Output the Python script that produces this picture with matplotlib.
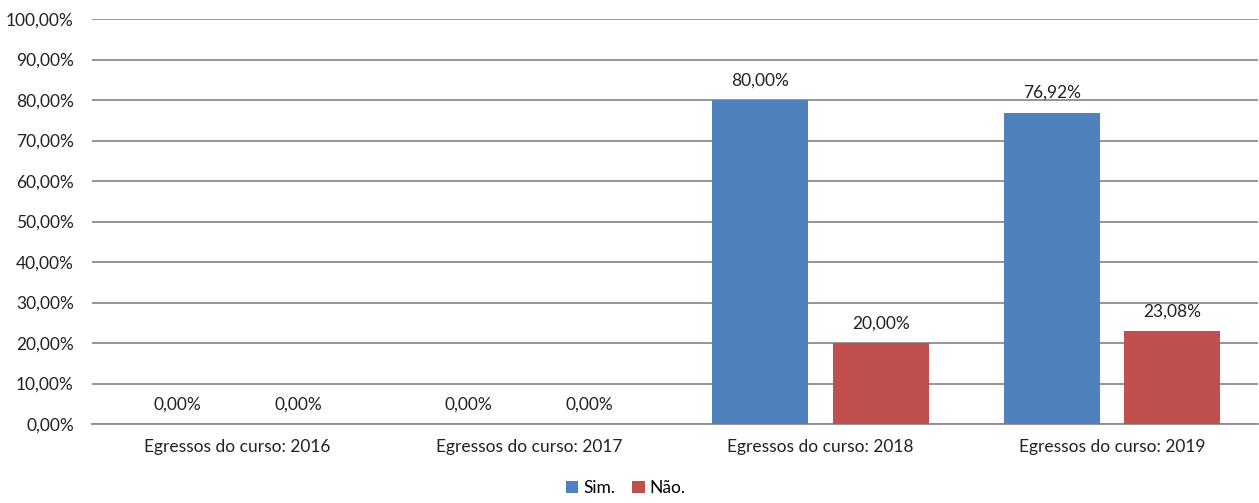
import matplotlib.pyplot as plt
import numpy as np

categories = ['Egressos do curso: 2016', 'Egressos do curso: 2017',
              'Egressos do curso: 2018', 'Egressos do curso: 2019']
sim = [0.0, 0.0, 80.00, 76.92]
nao = [0.0, 0.0, 20.00, 23.08]
series_names = ['Sim.', 'Não.']
colors = ['#4F81BD', '#C0504D']

plt.rcParams['font.family'] = ['Lato', 'DejaVu Sans']
fs = 12.5

fig = plt.figure(figsize=(12.59, 5.03), dpi=100)
ax = fig.add_axes([0.073, 0.157, 0.926, 0.805])

x = np.arange(len(categories))
w = 0.33
off = 0.207
for vals, dx, c, name in [(sim, -off, colors[0], series_names[0]),
                          (nao, off, colors[1], series_names[1])]:
    bars = ax.bar(x + dx, vals, width=w, color=c, label=name, zorder=3)
    for b, v in zip(bars, vals):
        ax.annotate(f'{v:.2f}%'.replace('.', ','), (b.get_x() + b.get_width() / 2, v),
                    xytext=(0, 14), textcoords='offset points',
                    ha='center', va='center', fontsize=fs, color='#222222')

ax.set_xlim(-0.5, 3.5)
ax.set_ylim(0, 100)
ax.set_yticks(np.arange(0, 101, 10))
ax.set_yticklabels([f'{v:.2f}%'.replace('.', ',') for v in np.arange(0, 101, 10)])
ax.set_xticks(x)
ax.set_xticklabels(categories)
ax.tick_params(axis='both', length=0, labelsize=fs, colors='#222222')
ax.tick_params(axis='y', pad=13)
ax.tick_params(axis='x', pad=11)
ax.grid(axis='y', color='#8C8C8C', linewidth=1.3, zorder=0)
for s in ['top', 'right', 'left']:
    ax.spines[s].set_visible(False)
ax.spines['bottom'].set_color('#8C8C8C')
ax.spines['bottom'].set_linewidth(1.3)

fig.legend(loc='lower center', bbox_to_anchor=(0.497, -0.018), ncol=2, frameon=False,
           handlelength=0.7, handleheight=0.7, handletextpad=0.3, columnspacing=1.0,
           fontsize=fs)

fig.savefig('out.png', dpi=100)
